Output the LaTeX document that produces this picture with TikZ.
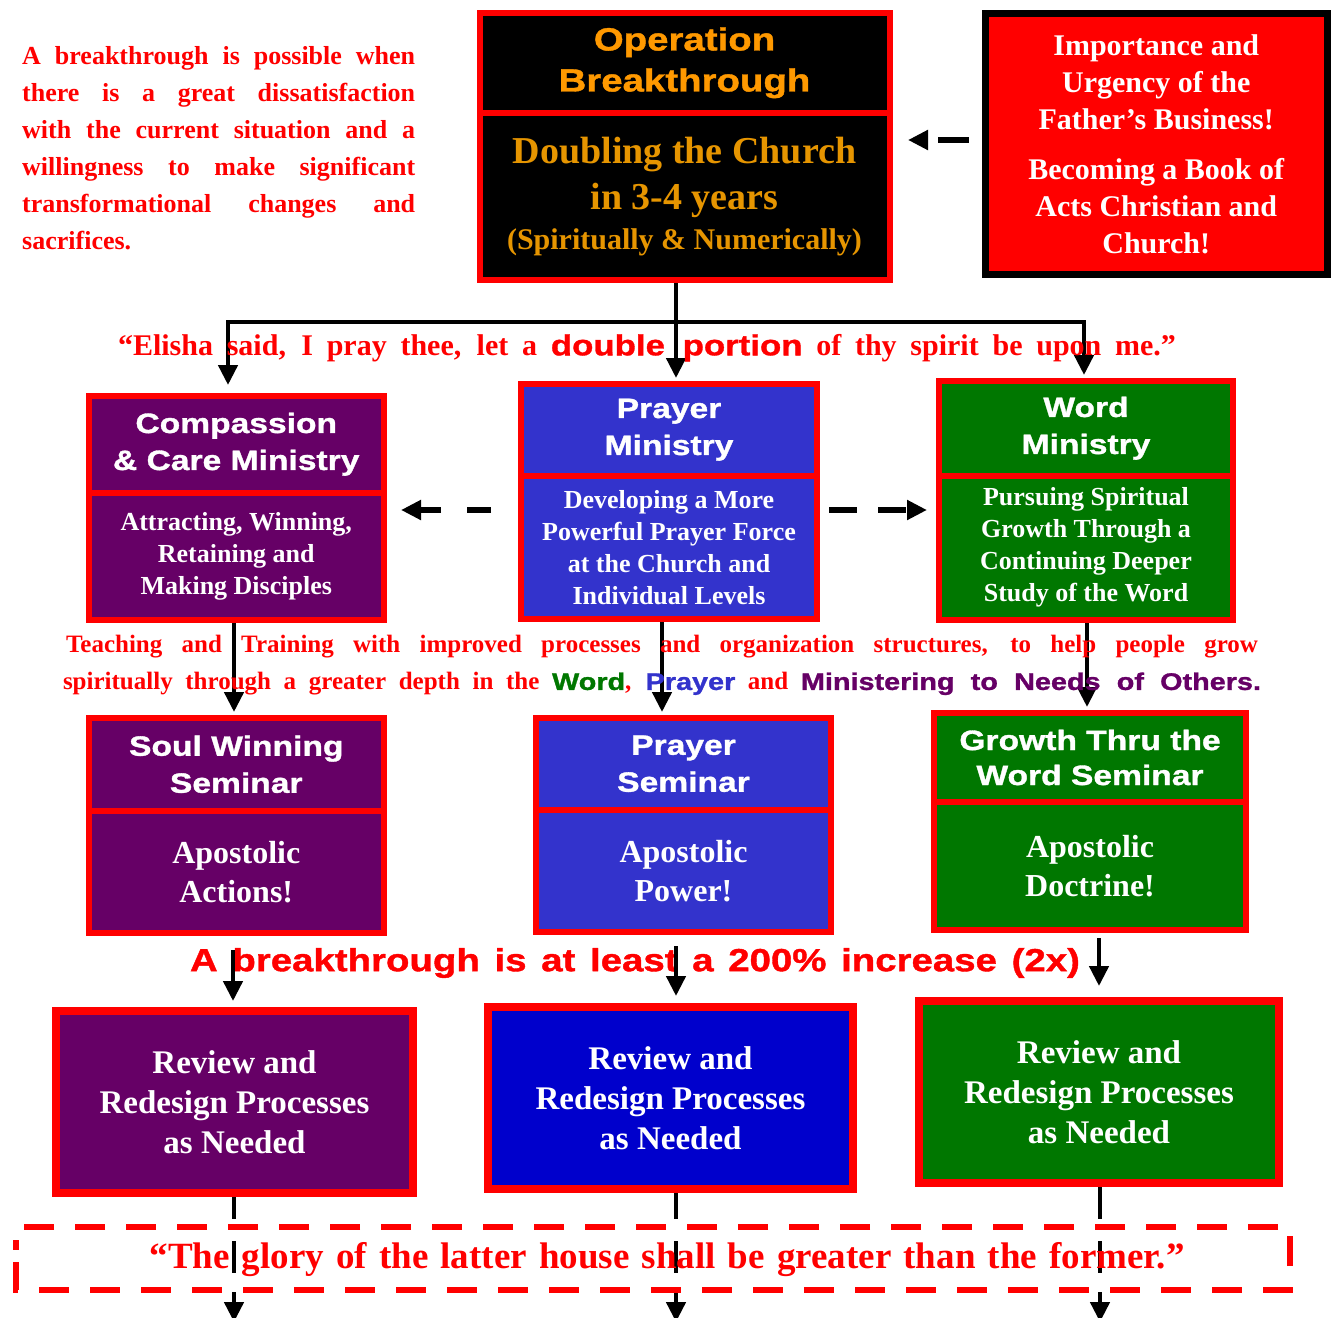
\documentclass[tikz,border=0pt]{standalone}
\usepackage{fontspec}
\setmainfont{Liberation Serif}
\newfontfamily\hsans[FakeStretch=1.2,FakeBold=1.2]{Liberation Sans}
\usetikzlibrary{arrows.meta}
\definecolor{purp}{HTML}{660066}
\definecolor{pblue}{HTML}{3333CC}
\definecolor{pgreen}{HTML}{007700}
\definecolor{dblue}{HTML}{0000CC}
\definecolor{orng}{HTML}{FF9900}
\definecolor{orng2}{HTML}{E69500}
\tikzset{
  bx/.style={draw=red, line width=6pt, inner sep=0pt, align=center, text=white},
  rvbox/.style={bx, line width=8pt, minimum height=182pt, font=\bfseries\fontsize{33}{40}\selectfont},
  ttl/.style={font=\hsans\bfseries\fontsize{28}{37}\selectfont},
  bdy/.style={font=\bfseries\fontsize{26}{32}\selectfont},
  bdyb/.style={font=\bfseries\fontsize{32}{39}\selectfont},
  conn/.style={line width=4.5pt, black},
  dconn/.style={line width=5.5pt, black},
  arr/.style={-{Triangle[length=20pt,width=19pt]}},
  redtxt/.style={text=red, inner sep=0pt, align=center},
}
\begin{document}
\begin{tikzpicture}[x=1pt,y=-1pt]
\useasboundingbox[fill=white] (0,0) rectangle (1335,1317);

% coordinates
\coordinate (jc) at (676,322);
\coordinate (bl) at (228,322);
\coordinate (br) at (1084,322);
\coordinate (da) at (940,140);
\coordinate (dy) at (450,510);
\coordinate (xa) at (234,0);
\coordinate (xb) at (662,0);
\coordinate (xc) at (1087,0);
\coordinate (xd) at (233,0);
\coordinate (xe) at (676,0);
\coordinate (xf) at (1099,0);
\coordinate (xg) at (234,1322);
\coordinate (xh) at (676,1322);
\coordinate (xi) at (1100,1322);

% intro text
\node[anchor=north west, text=red, inner sep=0pt, align=left,
      font=\bfseries\fontsize{26}{37}\selectfont] (intro) at (22,46)
 {\makebox[393pt][s]{A breakthrough is possible when}\\
  \makebox[393pt][s]{there is a great dissatisfaction}\\
  \makebox[393pt][s]{with the current situation and a}\\
  \makebox[393pt][s]{willingness to make significant}\\
  \makebox[393pt][s]{transformational changes and}\\
  sacrifices.};

% Operation Breakthrough
\node[bx, fill=black, minimum width=410pt, minimum height=99.5pt, text=orng,
      font=\hsans\bfseries\fontsize{32}{41}\selectfont] (op1) at (684.5,62.75)
 {Operation\\Breakthrough};
\node[bx, fill=black, minimum width=410pt, minimum height=167.5pt, text=orng2,
      font=\bfseries\fontsize{38}{46}\selectfont] (op2) at (684.5,196.25)
 {Doubling the Church\\in 3-4 years\\[-6pt]{\fontsize{30}{36}\selectfont (Spiritually \& Numerically)}};

% Red box
\node[draw=black, line width=7pt, fill=red, minimum width=341.5pt, minimum height=261pt,
      text=white, align=center, inner sep=0pt,
      font=\bfseries\fontsize{30}{37}\selectfont] (rb) at (1156.25,144)
 {Importance and\\Urgency of the\\Father’s Business!\\[13pt]Becoming a Book of\\Acts Christian and\\Church!};

% Row 2
\node[bx, fill=purp, ttl, minimum width=295.5pt, minimum height=96.5pt] (cc1) at (236.25,444.25)
 {Compassion\\\& Care Ministry};
\node[bx, fill=purp, bdy, minimum width=295.5pt, minimum height=127.5pt] (cc2) at (236.25,556.25)
 {Attracting, Winning,\\Retaining and\\Making Disciples};
\node[bx, fill=pblue, ttl, minimum width=296pt, minimum height=91.5pt] (pm1) at (669,429.75)
 {Prayer\\Ministry};
\node[bx, fill=pblue, bdy, minimum width=296pt, minimum height=143.5pt] (pm2) at (669,547.25)
 {Developing a More\\Powerful Prayer Force\\at the Church and\\Individual Levels};
\node[bx, fill=pgreen, ttl, minimum width=294pt, minimum height=94.5pt] (wm1) at (1086,428.25)
 {Word\\Ministry};
\node[bx, fill=pgreen, bdy, minimum width=294pt, minimum height=144.5pt] (wm2) at (1086,547.75)
 {Pursuing Spiritual\\Growth Through a\\Continuing Deeper\\Study of the Word};

% connectors from top
\draw[conn, arr, shorten >=3pt] (op2.south -| jc) -- (pm1.north -| jc);
\draw[conn, line join=miter, {Triangle[length=20pt,width=19pt]}-{Triangle[length=20pt,width=19pt]},
      shorten <=8pt, shorten >=3pt] (cc1.north -| bl) -- (bl) -- (br) -- (wm1.north -| br);
\draw[dconn, arr, dash pattern=on 31pt off 16pt, shorten <=13.5pt, shorten >=15.5pt]
  (rb.west |- da) -- (op2.east |- da);

% Elisha quote
\node[redtxt, font=\bfseries\fontsize{30}{36}\selectfont] (q1) at (647,348)
 {\makebox[1058pt][s]{“Elisha said, I pray thee, let a {\hsans\fontsize{29}{36}\selectfont double portion} of thy spirit be upon me.”}};

\draw[dconn, arr, dash pattern=on 24pt off 26pt, shorten <=27pt, shorten >=14pt]
  (pm2.west |- dy) -- (cc2.east |- dy);
\draw[dconn, arr, dash pattern=on 28pt off 21pt, shorten <=9pt, shorten >=9pt]
  (pm2.east |- dy) -- (wm2.west |- dy);

% Row 3
\node[bx, fill=purp, ttl, minimum width=295.5pt, minimum height=92.5pt] (sw1) at (236.25,764.25)
 {Soul Winning\\Seminar};
\node[bx, fill=purp, bdyb, minimum width=295.5pt, minimum height=122.5pt] (sw2) at (236.25,871.75)
 {Apostolic\\Actions!};
\node[bx, fill=pblue, ttl, minimum width=295pt, minimum height=91.5pt] (ps1) at (683.5,763.75)
 {Prayer\\Seminar};
\node[bx, fill=pblue, bdyb, minimum width=295pt, minimum height=122.5pt] (ps2) at (683.5,870.75)
 {Apostolic\\Power!};
\node[bx, fill=pgreen, ttl, font=\hsans\bfseries\fontsize{28}{35}\selectfont, minimum width=312pt, minimum height=89pt] (gw1) at (1090,757.5)
 {Growth Thru the\\Word Seminar};
\node[bx, fill=pgreen, bdyb, minimum width=312pt, minimum height=128pt] (gw2) at (1090,866)
 {Apostolic\\Doctrine!};

\draw[conn, arr, shorten >=3pt] (cc2.south -| xa) -- (sw1.north -| xa);
\draw[conn, arr, shorten >=3pt] (pm2.south -| xb) -- (ps1.north -| xb);
\draw[conn, arr, shorten >=3pt] (wm2.south -| xc) -- (gw1.north -| xc);

% Teaching text
\node[redtxt, font=\bfseries\fontsize{25}{37}\selectfont] (t1) at (662,665.5)
 {\makebox[1192pt][s]{Teaching and Training with improved processes and organization structures, to help people grow}\\
  \makebox[1198pt][s]{spiritually through a greater depth in the {\hsans\fontsize{24}{30}\selectfont\color{pgreen}Word}, {\hsans\fontsize{24}{30}\selectfont\color{pblue}Prayer} and {\hsans\fontsize{24}{30}\selectfont\color{purp}Ministering to Needs of Others.}}};

% breakthrough line
\node[redtxt, font=\hsans\bfseries\fontsize{32}{38}\selectfont] (b1) at (635,963)
 {\makebox[890pt][s]{A breakthrough is at least a 200\% increase (2x)}};

% Row 4
\node[rvbox, fill=purp, minimum width=357pt] (rv1) at (234.5,1102)
 {Review and\\Redesign Processes\\as Needed};
\node[rvbox, fill=dblue, minimum width=365pt] (rv2) at (670.5,1098)
 {Review and\\Redesign Processes\\as Needed};
\node[rvbox, fill=pgreen, minimum width=360pt] (rv3) at (1099,1092)
 {Review and\\Redesign Processes\\as Needed};

\draw[conn, arr, shorten <=14pt, shorten >=6pt] (sw2.south -| xd) -- (rv1.north -| xd);
\draw[conn, arr, shorten <=11pt, shorten >=7pt] (ps2.south -| xe) -- (rv2.north -| xe);
\draw[conn, arr, shorten <=5pt, shorten >=11pt] (gw2.south -| xf) -- (rv3.north -| xf);

% bottom arrows
\draw[conn, arr] (rv1.south -| xg) -- (xg);
\draw[conn, arr] (rv2.south -| xh) -- (xh);
\draw[conn, arr] (rv3.south -| xi) -- (xi);

% gaps around the dashed frame
\fill[white] (10,1219) rectangle (1300,1241);
\fill[white] (10,1273) rectangle (1300,1292);

% dashed frame
\draw[red, line width=6pt, dash pattern=on 30pt off 21pt]
  (16,1262) -- (16,1290) -- (1290,1290) -- (1290,1227) -- (16,1227) -- (16,1250);

\node[redtxt, font=\bfseries\fontsize{37}{44}\selectfont] (q2) at (667,1260)
 {\makebox[1035pt][s]{“The glory of the latter house shall be greater than the former.”}};
\end{tikzpicture}
\end{document}
